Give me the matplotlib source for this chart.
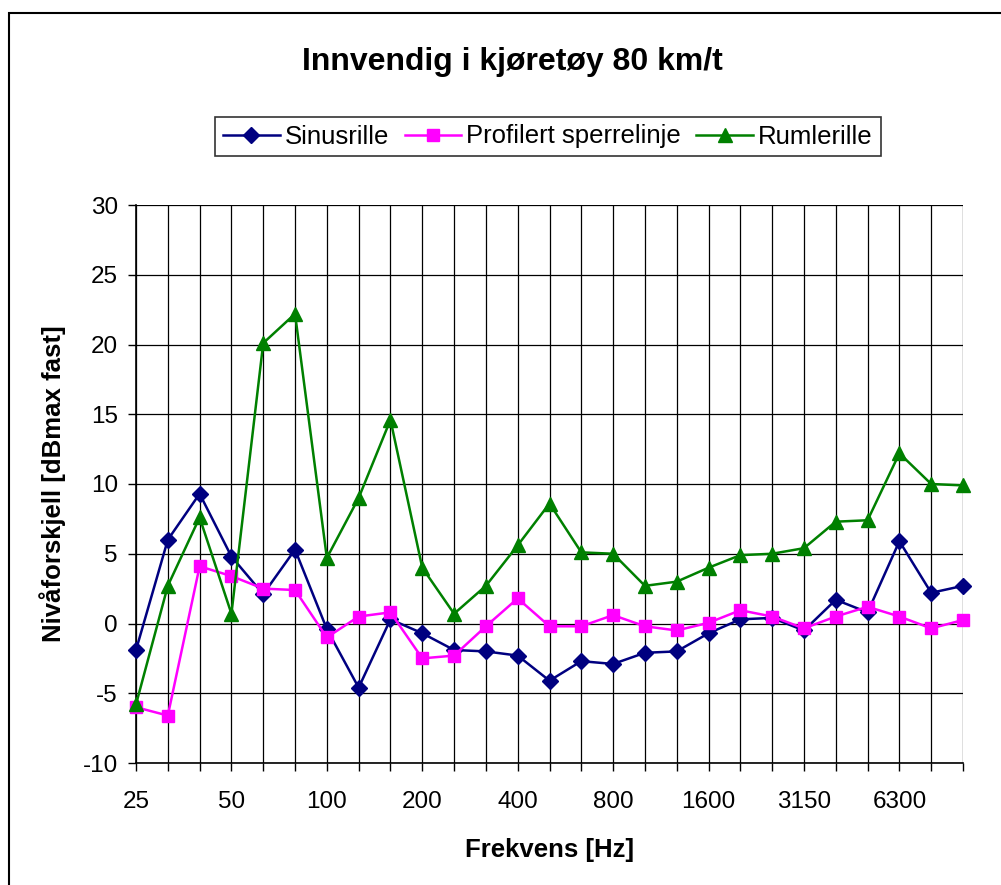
import matplotlib.pyplot as plt
from matplotlib.patches import Rectangle
import numpy as np

plt.rcParams['font.family'] = ['Liberation Sans', 'DejaVu Sans']
plt.rcParams['axes.unicode_minus'] = False

# Third-octave band centre frequencies (Hz)
freqs = ['25', '31.5', '40', '50', '63', '80', '100', '125', '160', '200',
         '250', '315', '400', '500', '630', '800', '1000', '1250', '1600',
         '2000', '2500', '3150', '4000', '5000', '6300', '8000', '10000']

sinusrille = [-1.9, 6.0, 9.3, 4.8, 2.1, 5.3, -0.4, -4.6, 0.3, -0.7,
              -1.9, -2.0, -2.3, -4.1, -2.7, -2.9, -2.1, -2.0, -0.7,
              0.3, 0.4, -0.5, 1.7, 0.8, 5.9, 2.2, 2.7]

profilert = [-6.0, -6.6, 4.1, 3.4, 2.5, 2.4, -1.0, 0.5, 0.8, -2.5,
             -2.3, -0.2, 1.8, -0.2, -0.2, 0.6, -0.2, -0.5, 0.05,
             0.95, 0.5, -0.35, 0.5, 1.2, 0.5, -0.35, 0.25]

rumlerille = [-5.8, 2.7, 7.6, 0.7, 20.1, 22.2, 4.7, 9.0, 14.6, 4.0,
              0.7, 2.7, 5.6, 8.6, 5.1, 5.0, 2.7, 3.0, 4.0,
              4.9, 5.0, 5.4, 7.3, 7.4, 12.2, 10.0, 9.9]

x = np.arange(len(freqs))

fig = plt.figure(figsize=(10.01, 8.85), dpi=100)
fig.patch.set_facecolor('white')

# outer chart border
fig.add_artist(Rectangle((9 / 1001, -0.01), 1.0, 1 - 13 / 885 + 0.01,
                         transform=fig.transFigure, fill=False,
                         edgecolor='black', linewidth=1.5))

ax = fig.add_axes([136 / 1001, 1 - 763 / 885, (963 - 136) / 1001, (763 - 205) / 885])

ax.plot(x, sinusrille, color='#000080', marker='D', markersize=8.5, lw=1.8,
        label='Sinusrille', clip_on=False, zorder=3)
ax.plot(x, profilert, color='#FF00FF', marker='s', markersize=8.5, lw=1.8,
        label='Profilert sperrelinje', clip_on=False, zorder=3)
ax.plot(x, rumlerille, color='#008000', marker='^', markersize=10, lw=1.8,
        label='Rumlerille', clip_on=False, zorder=3)

ax.set_xlim(0, len(freqs) - 1)
ax.set_ylim(-10, 30)
ax.set_yticks(np.arange(-10, 31, 5))
ax.set_xticks(x)
ax.set_xticklabels([f if i % 3 == 0 else '' for i, f in enumerate(freqs)])
ax.tick_params(axis='both', direction='out', length=6, width=1, labelsize=17.5, color='black')
ax.tick_params(axis='x', pad=14)
ax.tick_params(axis='y', pad=7)

ax.grid(True, color='black', linewidth=0.9)
ax.set_axisbelow(True)
for side in ['top', 'right']:
    ax.spines[side].set_visible(False)
for side in ['left', 'bottom']:
    ax.spines[side].set_linewidth(1.2)

ax.set_xlabel('Frekvens [Hz]', fontsize=18.5, fontweight='bold', labelpad=18)
ax.set_ylabel('Nivåforskjell [dBmax fast]', fontsize=18.5, fontweight='bold', labelpad=12)

fig.text(512 / 1001, 1 - 62 / 885, 'Innvendig i kjøretøy 80 km/t', ha='center', va='center',
         fontsize=23, fontweight='bold')

leg = fig.legend(loc='center', bbox_to_anchor=(548 / 1001, 1 - 136.5 / 885), ncol=3,
                 fontsize=18.5, frameon=True, fancybox=False, edgecolor='black',
                 handlelength=2.2, handletextpad=0.2, columnspacing=0.6,
                 borderpad=0.3, borderaxespad=0)
leg.get_frame().set_linewidth(1.2)

fig.savefig('out.png', dpi=100)
